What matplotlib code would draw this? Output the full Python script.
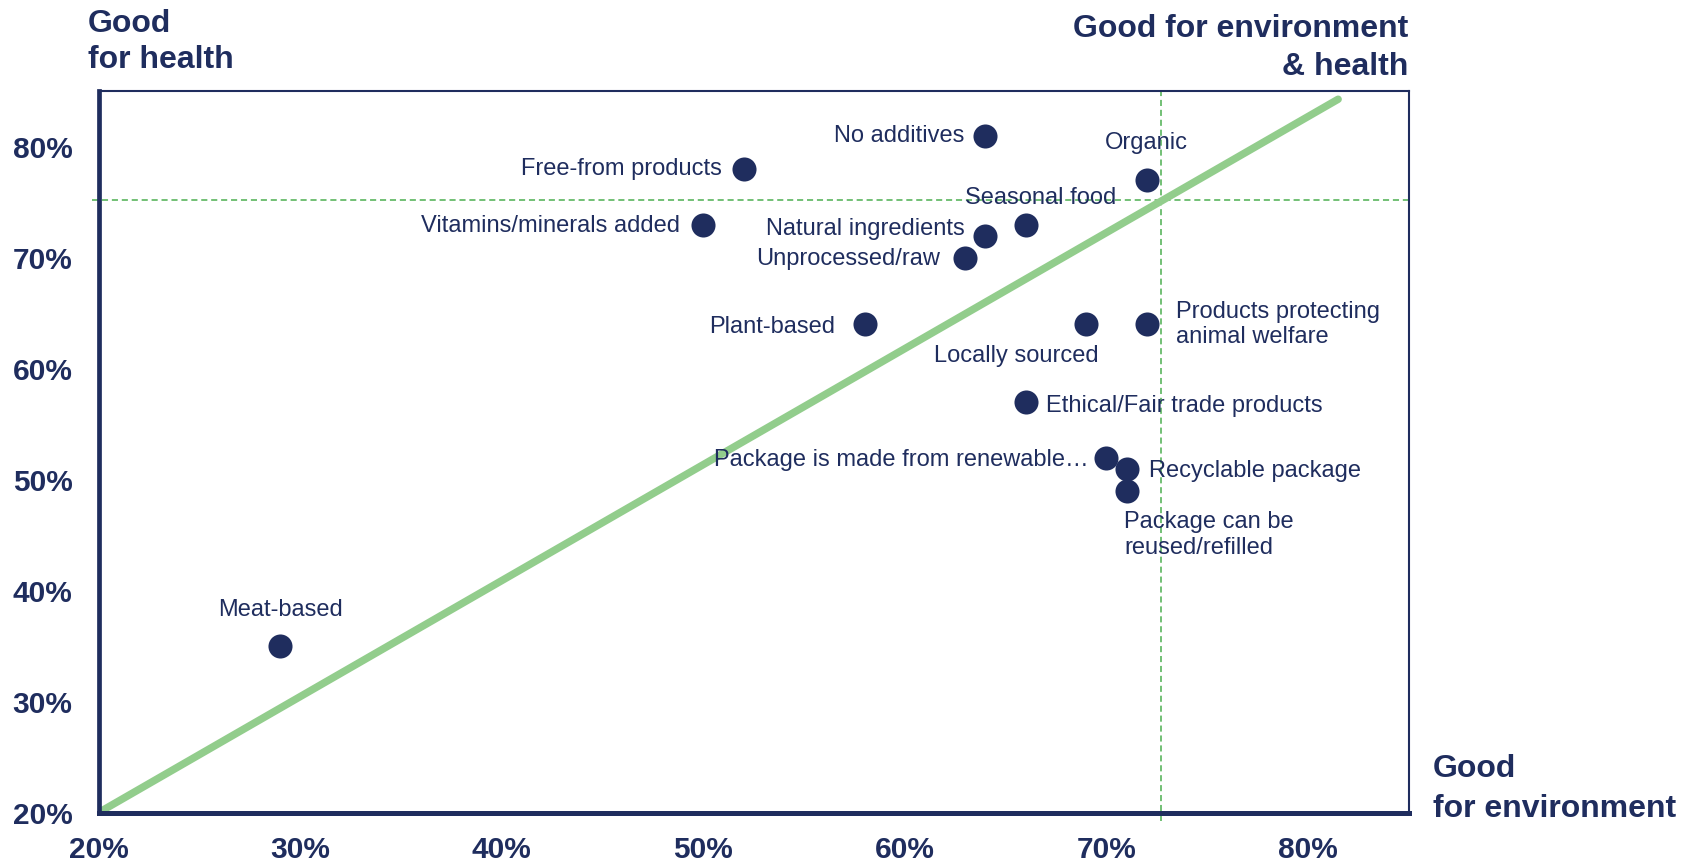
import matplotlib
matplotlib.use("Agg")
import matplotlib.pyplot as plt

plt.rcParams['font.family'] = ['Liberation Sans', 'DejaVu Sans']

# Share of consumers rating each attribute as good for the environment (x) / for health (y), %
attributes = [
    "No additives", "Free-from products", "Organic", "Vitamins/minerals added",
    "Seasonal food", "Natural ingredients", "Unprocessed/raw", "Plant-based",
    "Locally sourced", "Products protecting\nanimal welfare", "Ethical/Fair trade products",
    "Package is made from renewable\u2026", "Recyclable package",
    "Package can be\nreused/refilled", "Meat-based",
]
env_pct = [64, 52, 72, 50, 66, 64, 63, 58, 69, 72, 66, 70, 71, 71, 29]
health_pct = [81, 78, 77, 73, 73, 72, 70, 64, 64, 64, 57, 52, 51, 49, 35]

# Average reference lines and the diagonal trend line
avg_env = 72.7
avg_health = 75.2
trend_x = [20, 81.5]
trend_y = [20, 84.3]

x_ticks = [20, 30, 40, 50, 60, 70, 80]
y_ticks = [20, 30, 40, 50, 60, 70, 80]
tick_labels = ["20%", "30%", "40%", "50%", "60%", "70%", "80%"]

NAVY = "#1f2d5e"
GREEN = "#92cd8c"
DASH_GREEN = "#4caf50"

# label placement: (dx, dy) in points, horizontal alignment
label_pos = {
    "No additives": ((-15.5, 0), "right"),
    "Free-from products": ((-16, 0), "right"),
    "Organic": ((0, 26.5), "center"),
    "Vitamins/minerals added": ((-17, -1), "right"),
    "Seasonal food": ((11, 19.5), "center"),
    "Natural ingredients": ((-15, 4.5), "right"),
    "Unprocessed/raw": ((-18.5, -1), "right"),
    "Plant-based": ((-21.5, -2), "right"),
    "Locally sourced": ((-50, -23), "center"),
    "Products protecting\nanimal welfare": ((21, 0), "left"),
    "Ethical/Fair trade products": ((14.5, -2.5), "left"),
    "Package is made from renewable\u2026": ((-12.5, -1.5), "right"),
    "Recyclable package": ((16, -2), "left"),
    "Package can be\nreused/refilled": ((-1.5, -32), "left"),
    "Meat-based": ((0, 26), "center"),
}

W, H = 1683, 863
fig = plt.figure(figsize=(W / 100, H / 100), dpi=100)
ax = fig.add_axes([0.0587, 0.0585, 0.7783, 0.8355])
ax.set_xlim(20, 85)
ax.set_ylim(20, 85)

# trend diagonal
ax.plot(trend_x, trend_y, color=GREEN, lw=5.4, solid_capstyle="round", zorder=2)

# average lines
ax.plot([avg_env, avg_env], [19.2, 85], color=DASH_GREEN, lw=1.1,
        dashes=(4, 2.5), clip_on=False, zorder=1)
ax.plot([19.65, 85], [avg_health, avg_health], color=DASH_GREEN, lw=1.1,
        dashes=(4, 2.5), clip_on=False, zorder=1)

ax.scatter(env_pct, health_pct, s=300, color=NAVY, zorder=4, linewidths=0)

for name, x, y in zip(attributes, env_pct, health_pct):
    (dx, dy), ha = label_pos[name]
    ax.annotate(name, (x, y), xytext=(dx, dy), textcoords="offset points",
                ha=ha, va="center", fontsize=17, color=NAVY, zorder=5,
                linespacing=1.22)

ax.set_xticks(x_ticks)
ax.set_xticklabels(tick_labels)
ax.set_yticks(y_ticks)
ax.set_yticklabels(tick_labels)
ax.tick_params(length=0, labelsize=21.5, labelcolor=NAVY)
ax.tick_params(axis="x", pad=17)
ax.tick_params(axis="y", pad=19)
for lab in ax.get_xticklabels() + ax.get_yticklabels():
    lab.set_fontweight("bold")

for side, lw in (("left", 3.4), ("bottom", 3.6), ("top", 1.5), ("right", 1.5)):
    ax.spines[side].set_color(NAVY)
    ax.spines[side].set_linewidth(lw)

# corner headings, one text per line placed on its baseline (pixel coords from top-left)
head = dict(color=NAVY, fontsize=23, fontweight="bold", va="baseline")
headings = [
    ("Good", 88, 32, "left"),
    ("for health", 88, 68, "left"),
    ("Good for environment", 1408, 37, "right"),
    ("& health", 1408, 75, "right"),
    ("Good", 1433, 777, "left"),
    ("for environment", 1433, 817, "left"),
]
for txt, px, py, ha in headings:
    fig.text(px / W, 1 - py / H, txt, ha=ha, **head)

fig.savefig("out.png", dpi=100)
